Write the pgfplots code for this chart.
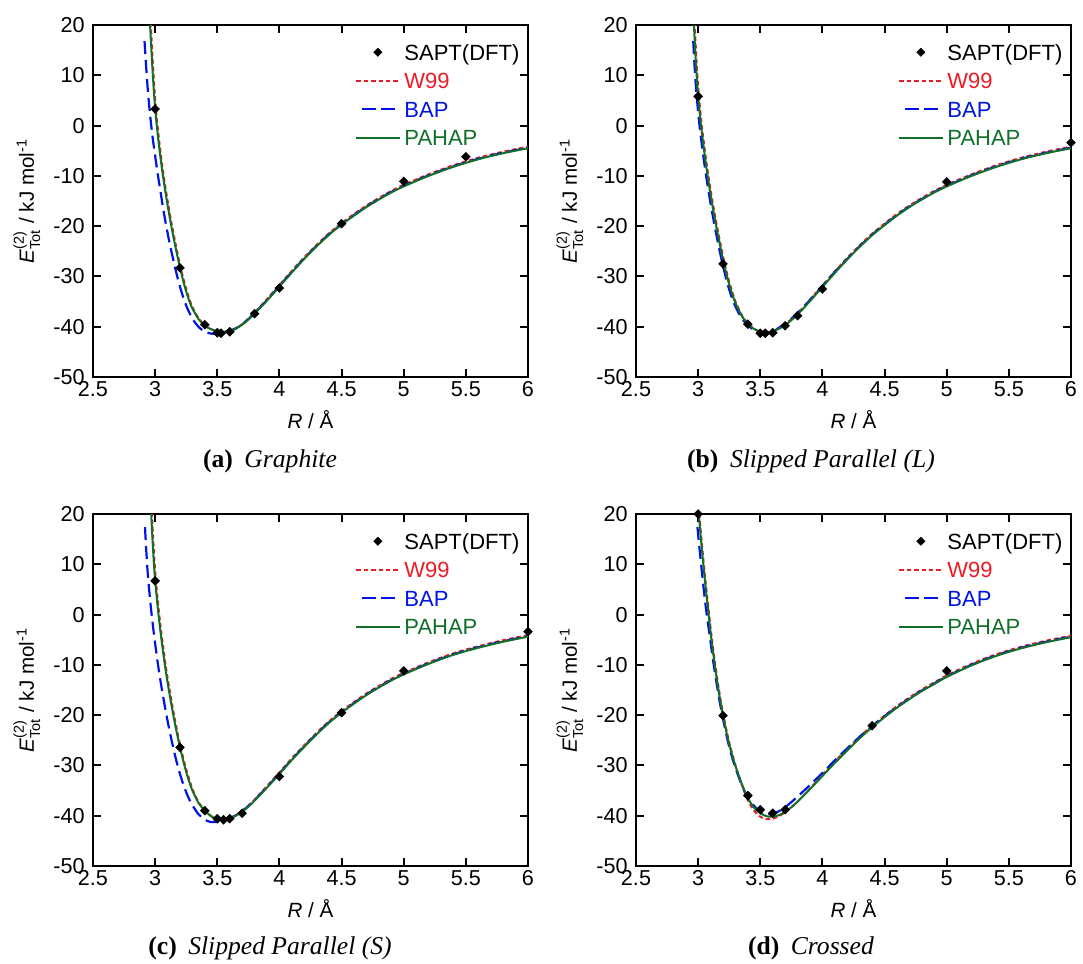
\documentclass[border=0pt]{standalone}
\usepackage{fontspec}
\setmainfont{Liberation Sans}
\newfontfamily\capfont{Liberation Serif}
\usepackage{amsmath}
\usepackage{pgfplots}
\pgfplotsset{compat=1.18}

\definecolor{wred}{RGB}{235,28,36}
\definecolor{bblue}{RGB}{0,20,230}
\definecolor{pgreen}{RGB}{16,112,40}

\pgfplotsset{
  panel/.style={
    scale only axis, width=217.5pt, height=176pt,
    xmin=2.5, xmax=6, ymin=-50, ymax=20,
    xtick={2.5,3,3.5,4,4.5,5,5.5,6},
    ytick={-50,-40,-30,-20,-10,0,10,20},
    tick align=inside,
    major tick length=4pt,
    every tick/.style={black, line width=1pt},
    axis line style={line width=1pt},
    /pgf/number format/assume math mode=true,
    tick label style={font=\fontsize{10.8}{12}\selectfont},
    xticklabel style={inner sep=2pt},
    yticklabel style={inner sep=2pt, xshift=-2pt},
    label style={font=\fontsize{10.3}{12}\selectfont},
    xlabel={\textit{R} / Å},
    ylabel={$\textit{E}^{\text{(2)}}_{\text{Tot}}$ / kJ mol$^{\text{-1}}$},
    xlabel style={at={(axis description cs:0.5,-0.145)}, anchor=base},
    ylabel style={at={(axis description cs:-0.136,0.5)}, anchor=base},
    legend style={draw=none, fill=none, at={(0.602,0.946)}, anchor=north west,
      inner sep=0pt, row sep=6.3pt, font=\fontsize{11}{13}\selectfont,
      nodes={inner sep=0pt, text height=7.9pt, text depth=0pt},
      /tikz/every odd column/.append style={column sep=2pt}},
    legend cell align=left,
    legend image code/.code={\draw[mark repeat=2,mark phase=2] plot coordinates {(0pt,0pt) (10.75pt,0pt) (21.5pt,0pt)};},
  },
  sapt/.style={only marks, mark=square*, mark size=1.5pt, mark options={rotate=45}, black, forget plot},
  w99/.style={wred, line width=1pt, dash pattern=on 2.2pt off 1.5pt, smooth, no marks},
  bap/.style={bblue, line width=1.1pt, dash pattern=on 6.5pt off 3pt, dash phase=6.5pt, smooth, no marks},
  pahap/.style={pgreen, line width=1pt, smooth, no marks},
}

\newcommand{\legstart}{\addlegendimage{only marks, mark=square*, mark size=1.4pt, mark options={rotate=45}, black}\addlegendentry{SAPT(DFT)}}

\begin{document}
\begin{tikzpicture}
\path[use as bounding box] (0,0) rectangle (541.5pt,482pt);

% ---------------- (a) Graphite
\begin{axis}[panel, at={(46.5pt,293.5pt)}, anchor=south west]
\legstart
\addplot[w99] coordinates {(2.961,22.0)(2.966,19.6)(2.986,10.6)(3.006,3.4)(3.026,-1.6)(3.046,-5.8)(3.066,-9.5)(3.086,-12.8)(3.106,-15.8)(3.131,-19.3)(3.156,-22.5)(3.181,-25.5)(3.206,-28.3)(3.231,-30.8)(3.256,-33.0)(3.281,-34.9)(3.305,-36.4)(3.354,-38.5)(3.403,-39.8)(3.452,-40.5)(3.5,-40.95)(3.55,-41.1)(3.6,-40.9)(3.65,-40.3)(3.7,-39.5)(3.75,-38.4)(3.8,-37.2)(3.9,-34.5)(4.0,-31.7)(4.1,-28.9)(4.2,-26.2)(4.3,-23.7)(4.4,-21.4)(4.5,-19.4)(4.6,-17.6)(4.7,-15.9)(4.8,-14.4)(4.9,-13.0)(5.0,-11.8)(5.2,-9.7)(5.4,-7.9)(5.6,-6.4)(5.8,-5.2)(6.0,-4.2)};
\addlegendentry{\textcolor{wred}{W99}}
\addplot[bap] coordinates {(2.912,18.0)(2.92,14.6)(2.94,7.4)(2.96,2.0)(2.98,-2.4)(3.0,-6.0)(3.02,-9.5)(3.04,-12.6)(3.06,-15.8)(3.085,-19.4)(3.11,-22.6)(3.135,-25.5)(3.16,-28.2)(3.185,-30.7)(3.21,-32.9)(3.235,-34.8)(3.26,-36.4)(3.285,-37.7)(3.31,-38.8)(3.36,-40.3)(3.41,-41.1)(3.46,-41.4)(3.5,-41.35)(3.55,-41.1)(3.6,-40.8)(3.65,-40.3)(3.7,-39.5)(3.75,-38.5)(3.8,-37.3)(3.9,-34.7)(4.0,-31.9)(4.1,-29.1)(4.2,-26.4)(4.3,-23.9)(4.4,-21.6)(4.5,-19.6)(4.6,-17.8)(4.7,-16.1)(4.8,-14.6)(4.9,-13.2)(5.0,-12.0)(5.2,-9.9)(5.4,-8.1)(5.6,-6.6)(5.8,-5.4)(6.0,-4.4)};
\addlegendentry{\textcolor{bblue}{BAP}}
\addplot[pahap] coordinates {(2.955,22.0)(2.96,19.6)(2.98,10.6)(3.0,3.4)(3.02,-1.6)(3.04,-5.8)(3.06,-9.5)(3.08,-12.8)(3.1,-15.8)(3.125,-19.3)(3.15,-22.5)(3.175,-25.5)(3.2,-28.3)(3.225,-30.8)(3.25,-33.0)(3.275,-34.9)(3.3,-36.4)(3.35,-38.5)(3.4,-39.8)(3.45,-40.5)(3.5,-40.9)(3.55,-41.0)(3.6,-40.9)(3.65,-40.4)(3.7,-39.6)(3.75,-38.6)(3.8,-37.4)(3.9,-34.8)(4.0,-32.0)(4.1,-29.2)(4.2,-26.5)(4.3,-24.0)(4.4,-21.7)(4.5,-19.7)(4.6,-17.9)(4.7,-16.2)(4.8,-14.7)(4.9,-13.3)(5.0,-12.1)(5.2,-10.0)(5.4,-8.2)(5.6,-6.7)(5.8,-5.5)(6.0,-4.5)};
\addlegendentry{\textcolor{pgreen}{PAHAP}}
\addplot[sapt] coordinates {(3.0,3.3)(3.2,-28.3)(3.4,-39.6)(3.5,-41.2)(3.53,-41.3)(3.6,-41.0)(3.8,-37.4)(4.0,-32.3)(4.5,-19.5)(5.0,-11.1)(5.5,-6.2)};
\end{axis}

% ---------------- (b) Slipped Parallel (L)
\begin{axis}[panel, at={(318pt,293.5pt)}, anchor=south west]
\legstart
\addplot[w99] coordinates {(2.968,22.1)(2.971,20.6)(2.976,18.0)(2.986,13.3)(2.996,9.3)(3.006,6.0)(3.026,0.7)(3.046,-3.4)(3.066,-7.2)(3.086,-10.6)(3.106,-13.7)(3.131,-17.3)(3.156,-20.6)(3.181,-23.7)(3.206,-26.6)(3.231,-29.25)(3.256,-31.6)(3.281,-33.6)(3.305,-35.3)(3.354,-37.8)(3.403,-39.45)(3.452,-40.45)(3.5,-41.0)(3.55,-41.2)(3.6,-40.9)(3.65,-40.3)(3.7,-39.5)(3.75,-38.5)(3.8,-37.4)(3.9,-34.6)(4.0,-31.8)(4.1,-29.0)(4.2,-26.3)(4.3,-23.8)(4.4,-21.5)(4.5,-19.5)(4.6,-17.6)(4.7,-15.9)(4.8,-14.4)(4.9,-13.0)(5.0,-11.8)(5.2,-9.7)(5.4,-7.9)(5.6,-6.4)(5.8,-5.2)(6.0,-4.2)};
\addlegendentry{\textcolor{wred}{W99}}
\addplot[bap] coordinates {(2.958,18.0)(2.968,13.3)(2.978,9.3)(2.988,6.0)(3.008,0.7)(3.028,-3.4)(3.048,-7.2)(3.068,-10.6)(3.088,-13.7)(3.113,-17.3)(3.138,-20.6)(3.163,-23.7)(3.188,-26.6)(3.213,-29.25)(3.238,-31.6)(3.263,-33.6)(3.288,-35.3)(3.34,-37.9)(3.39,-39.5)(3.44,-40.5)(3.49,-41.1)(3.54,-41.3)(3.6,-41.0)(3.65,-40.2)(3.7,-39.4)(3.75,-38.4)(3.8,-37.3)(3.9,-34.7)(4.0,-31.9)(4.1,-29.1)(4.2,-26.5)(4.3,-24.0)(4.4,-21.7)(4.5,-19.7)(4.6,-17.8)(4.7,-16.1)(4.8,-14.6)(4.9,-13.2)(5.0,-12.0)(5.2,-9.9)(5.4,-8.1)(5.6,-6.6)(5.8,-5.4)(6.0,-4.4)};
\addlegendentry{\textcolor{bblue}{BAP}}
\addplot[pahap] coordinates {(2.962,22.1)(2.965,20.6)(2.97,18.0)(2.98,13.3)(2.99,9.3)(3.0,6.0)(3.02,0.7)(3.04,-3.4)(3.06,-7.2)(3.08,-10.6)(3.1,-13.7)(3.125,-17.3)(3.15,-20.6)(3.175,-23.7)(3.2,-26.6)(3.225,-29.25)(3.25,-31.6)(3.275,-33.6)(3.3,-35.3)(3.35,-37.8)(3.4,-39.45)(3.45,-40.45)(3.5,-41.0)(3.55,-41.15)(3.6,-40.9)(3.65,-40.4)(3.7,-39.7)(3.75,-38.7)(3.8,-37.6)(3.9,-34.9)(4.0,-32.1)(4.1,-29.3)(4.2,-26.6)(4.3,-24.1)(4.4,-21.8)(4.5,-19.8)(4.6,-17.9)(4.7,-16.2)(4.8,-14.7)(4.9,-13.3)(5.0,-12.1)(5.2,-10.0)(5.4,-8.2)(5.6,-6.7)(5.8,-5.5)(6.0,-4.5)};
\addlegendentry{\textcolor{pgreen}{PAHAP}}
\addplot[sapt] coordinates {(3.0,5.8)(3.2,-27.5)(3.4,-39.5)(3.5,-41.3)(3.54,-41.3)(3.6,-41.2)(3.7,-39.8)(3.8,-37.8)(4.0,-32.5)(5.0,-11.2)(6.0,-3.4)};
\end{axis}

% ---------------- (c) Slipped Parallel (S)
\begin{axis}[panel, at={(46.5pt,49pt)}, anchor=south west]
\legstart
\addplot[w99] coordinates {(2.968,23.3)(2.971,21.7)(2.976,19.1)(2.986,14.3)(2.996,10.2)(3.006,6.8)(3.026,1.6)(3.046,-2.8)(3.066,-6.7)(3.086,-10.3)(3.106,-13.5)(3.131,-17.1)(3.156,-20.5)(3.181,-23.6)(3.206,-26.4)(3.231,-29.0)(3.256,-31.3)(3.281,-33.3)(3.305,-35.0)(3.354,-37.5)(3.403,-39.0)(3.452,-40.1)(3.5,-40.7)(3.55,-40.85)(3.6,-40.6)(3.65,-39.9)(3.7,-39.0)(3.75,-38.0)(3.8,-36.8)(3.9,-34.1)(4.0,-31.4)(4.1,-28.6)(4.2,-26.0)(4.3,-23.5)(4.4,-21.2)(4.5,-19.2)(4.6,-17.4)(4.7,-15.7)(4.8,-14.2)(4.9,-12.8)(5.0,-11.6)(5.2,-9.5)(5.4,-7.7)(5.6,-6.3)(5.8,-5.1)(6.0,-4.1)};
\addlegendentry{\textcolor{wred}{W99}}
\addplot[bap] coordinates {(2.916,18.6)(2.925,14.3)(2.935,10.2)(2.945,6.8)(2.965,1.6)(2.985,-2.8)(3.005,-6.7)(3.025,-10.3)(3.045,-13.5)(3.07,-17.1)(3.095,-20.5)(3.12,-23.6)(3.145,-26.4)(3.17,-29.0)(3.195,-31.3)(3.22,-33.3)(3.245,-35.0)(3.27,-36.5)(3.295,-37.7)(3.345,-39.6)(3.395,-40.7)(3.445,-41.25)(3.5,-41.2)(3.55,-40.9)(3.6,-40.5)(3.65,-39.9)(3.7,-39.1)(3.75,-38.1)(3.8,-36.9)(3.9,-34.3)(4.0,-31.6)(4.1,-28.8)(4.2,-26.2)(4.3,-23.7)(4.4,-21.4)(4.5,-19.4)(4.6,-17.6)(4.7,-15.9)(4.8,-14.4)(4.9,-13.0)(5.0,-11.8)(5.2,-9.7)(5.4,-7.9)(5.6,-6.5)(5.8,-5.3)(6.0,-4.3)};
\addlegendentry{\textcolor{bblue}{BAP}}
\addplot[pahap] coordinates {(2.962,23.3)(2.965,21.7)(2.97,19.1)(2.98,14.3)(2.99,10.2)(3.0,6.8)(3.02,1.6)(3.04,-2.8)(3.06,-6.7)(3.08,-10.3)(3.1,-13.5)(3.125,-17.1)(3.15,-20.5)(3.175,-23.6)(3.2,-26.4)(3.225,-29.0)(3.25,-31.3)(3.275,-33.3)(3.3,-35.0)(3.35,-37.5)(3.4,-39.0)(3.45,-40.1)(3.5,-40.7)(3.55,-40.8)(3.6,-40.6)(3.65,-40.0)(3.7,-39.2)(3.75,-38.2)(3.8,-37.0)(3.9,-34.4)(4.0,-31.7)(4.1,-28.9)(4.2,-26.3)(4.3,-23.8)(4.4,-21.5)(4.5,-19.5)(4.6,-17.7)(4.7,-16.0)(4.8,-14.5)(4.9,-13.1)(5.0,-11.9)(5.2,-9.8)(5.4,-8.0)(5.6,-6.6)(5.8,-5.4)(6.0,-4.4)};
\addlegendentry{\textcolor{pgreen}{PAHAP}}
\addplot[sapt] coordinates {(3.0,6.7)(3.2,-26.4)(3.4,-39.0)(3.5,-40.6)(3.55,-40.8)(3.6,-40.6)(3.7,-39.5)(4.0,-32.2)(4.5,-19.5)(5.0,-11.2)(6.0,-3.4)};
\end{axis}

% ---------------- (d) Crossed
\begin{axis}[panel, at={(318pt,49pt)}, anchor=south west]
\legstart
\addplot[w99] coordinates {(3.004,21.5)(3.024,15.7)(3.044,10.4)(3.064,5.5)(3.084,1.0)(3.104,-3.5)(3.129,-8.4)(3.154,-12.8)(3.179,-16.7)(3.204,-20.1)(3.229,-23.1)(3.254,-25.8)(3.279,-28.1)(3.303,-30.2)(3.352,-33.9)(3.4,-36.9)(3.45,-39.0)(3.5,-40.2)(3.55,-40.7)(3.6,-40.6)(3.65,-40.1)(3.7,-39.3)(3.75,-38.3)(3.8,-37.2)(3.9,-34.6)(4.0,-31.9)(4.1,-29.2)(4.2,-26.7)(4.3,-24.3)(4.4,-22.1)(4.5,-20.1)(4.6,-18.2)(4.7,-16.5)(4.8,-14.9)(4.9,-13.5)(5.0,-12.1)(5.2,-9.8)(5.4,-7.9)(5.6,-6.4)(5.8,-5.2)(6.0,-4.2)};
\addlegendentry{\textcolor{wred}{W99}}
\addplot[bap] coordinates {(2.99,18.6)(3.001,15.7)(3.022,10.4)(3.043,5.5)(3.064,1.0)(3.089,-3.5)(3.116,-8.4)(3.143,-12.8)(3.169,-16.7)(3.195,-20.1)(3.22,-23.1)(3.245,-25.8)(3.27,-28.1)(3.295,-30.1)(3.345,-33.5)(3.395,-36.2)(3.445,-37.9)(3.5,-39.2)(3.55,-39.7)(3.6,-39.6)(3.65,-39.1)(3.7,-38.3)(3.75,-37.3)(3.8,-36.2)(3.9,-33.9)(4.0,-31.5)(4.1,-29.0)(4.2,-26.6)(4.3,-24.3)(4.4,-22.2)(4.5,-20.2)(4.6,-18.4)(4.7,-16.7)(4.8,-15.1)(4.9,-13.7)(5.0,-12.3)(5.2,-10.0)(5.4,-8.1)(5.6,-6.6)(5.8,-5.4)(6.0,-4.4)};
\addlegendentry{\textcolor{bblue}{BAP}}
\addplot[pahap] coordinates {(3.0,21.5)(3.02,15.7)(3.04,10.4)(3.06,5.5)(3.08,1.0)(3.1,-3.5)(3.125,-8.4)(3.15,-12.8)(3.175,-16.7)(3.2,-20.1)(3.225,-23.1)(3.25,-25.8)(3.275,-28.1)(3.3,-30.1)(3.35,-33.6)(3.4,-36.5)(3.45,-38.4)(3.5,-39.5)(3.55,-40.1)(3.6,-40.2)(3.65,-39.9)(3.7,-39.2)(3.75,-38.3)(3.8,-37.2)(3.9,-34.7)(4.0,-32.1)(4.1,-29.5)(4.2,-27.0)(4.3,-24.6)(4.4,-22.4)(4.5,-20.4)(4.6,-18.5)(4.7,-16.8)(4.8,-15.2)(4.9,-13.8)(5.0,-12.4)(5.2,-10.1)(5.4,-8.2)(5.6,-6.7)(5.8,-5.5)(6.0,-4.5)};
\addlegendentry{\textcolor{pgreen}{PAHAP}}
\addplot[sapt] coordinates {(3.0,20.0)(3.2,-20.1)(3.4,-36.0)(3.5,-38.8)(3.6,-39.5)(3.7,-38.8)(4.4,-22.1)(5.0,-11.2)};
\end{axis}

% ---------------- captions
\node[anchor=base, font=\capfont\fontsize{12.8}{15}\selectfont] at (135pt,248pt) {\textbf{(a)}\hspace{0.45em}\textit{Graphite}};
\node[anchor=base, font=\capfont\fontsize{12.8}{15}\selectfont] at (405.5pt,248pt) {\textbf{(b)}\hspace{0.45em}\textit{Slipped Parallel (L)}};
\node[anchor=base, font=\capfont\fontsize{12.8}{15}\selectfont] at (135pt,4.5pt) {\textbf{(c)}\hspace{0.45em}\textit{Slipped Parallel (S)}};
\node[anchor=base, font=\capfont\fontsize{12.8}{15}\selectfont] at (405.5pt,4.5pt) {\textbf{(d)}\hspace{0.45em}\textit{Crossed}};
\end{tikzpicture}
\end{document}
